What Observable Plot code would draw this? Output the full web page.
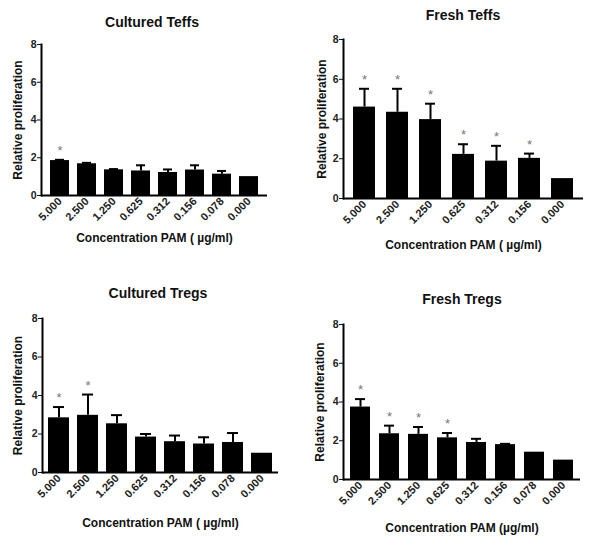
<!DOCTYPE html>
<html>
<head>
<meta charset="utf-8">
<script src="https://cdn.jsdelivr.net/npm/d3@7"></script>
<script src="https://cdn.jsdelivr.net/npm/@observablehq/plot@0.6"></script>
<style>
  html, body { margin: 0; padding: 0; background: #fff; }
  #root { position: relative; width: 600px; height: 548px; overflow: hidden; font-family: "Liberation Sans", Arial, sans-serif; }
  .ttl { position: absolute; width: 200px; text-align: center; font-weight: bold; font-size: 14px; line-height: 16px; color: #111; }
  .pnl { position: absolute; }
</style>
</head>
<body>
<div id="root"></div>
<script>
// ---- data ----
const concAll = ["5.000", "2.500", "1.250", "0.625", "0.312", "0.156", "0.078", "0.000"];
const concFreshTeffs = ["5.000", "2.500", "1.250", "0.625", "0.312", "0.156", "0.000"];

const culturedTeffsMean = [1.85, 1.68, 1.36, 1.30, 1.22, 1.35, 1.13, 1.00];
const culturedTeffsErr  = [1.89, 1.73, 1.40, 1.60, 1.38, 1.60, 1.30, null];
const culturedTeffsSig  = [1, 0, 0, 0, 0, 0, 0, 0];

const freshTeffsMean = [4.60, 4.34, 3.97, 2.22, 1.88, 2.02, 1.00];
const freshTeffsErr  = [5.52, 5.52, 4.77, 2.73, 2.65, 2.26, null];
const freshTeffsSig  = [1, 1, 1, 1, 1, 1, 0];

const culturedTregsMean = [2.84, 2.97, 2.53, 1.84, 1.60, 1.48, 1.56, 1.00];
const culturedTregsErr  = [3.40, 4.05, 2.98, 2.00, 1.92, 1.83, 2.05, null];
const culturedTregsSig  = [1, 1, 0, 0, 0, 0, 0, 0];

const freshTregsMean = [3.74, 2.36, 2.33, 2.15, 1.91, 1.80, 1.41, 1.00];
const freshTregsErr  = [4.15, 2.78, 2.71, 2.40, 2.10, 1.84, null, null];
const freshTregsSig  = [1, 1, 1, 1, 0, 0, 0, 0];

const yTicks = [0, 2, 4, 6, 8];
const xTitleSpaced = "Concentration PAM ( \u00b5g/ml)";
const xTitle = "Concentration PAM (\u00b5g/ml)";
const yTitle = "Relative proliferation";

function rows(conc, mean, err, sig) {
  return conc.map((c, i) => ({c, v: mean[i], e: err[i], s: sig[i], top: err[i] != null ? err[i] : mean[i]}));
}

const panels = [
  {title: "Cultured Teffs", xt: xTitleSpaced, data: rows(concAll, culturedTeffsMean, culturedTeffsErr, culturedTeffsSig),
   left: 0, top: 0, w: 300, h: 250, mL: 41, mR: 33, mT: 44, mB: 55, pi: 0.28, po: 0.18, cap: 5,
   tx: 152, ty: 22, xdy: 43, ydx: -23},
  {title: "Fresh Teffs", xt: xTitleSpaced, data: rows(concFreshTeffs, freshTeffsMean, freshTeffsErr, freshTeffsSig),
   left: 300, top: 0, w: 300, h: 250, mL: 43, mR: 17, mT: 39, mB: 52, pi: 0.33, po: 0.22, cap: 6,
   tx: 463, ty: 15, xdy: 47, ydx: -21},
  {title: "Cultured Tregs", xt: xTitleSpaced, data: rows(concAll, culturedTregsMean, culturedTregsErr, culturedTregsSig),
   left: 0, top: 270, w: 300, h: 278, mL: 42, mR: 22, mT: 48, mB: 76, pi: 0.26, po: 0.14, cap: 5,
   tx: 158, ty: 293, xdy: 51, ydx: -24},
  {title: "Fresh Tregs", xt: xTitle, data: rows(concAll, freshTregsMean, freshTregsErr, freshTregsSig),
   left: 300, top: 270, w: 300, h: 278, mL: 43, mR: 20, mT: 54, mB: 69, pi: 0.31, po: 0.24, cap: 5,
   tx: 462, ty: 299, xdy: 49, ydx: -23}
];

const root = document.getElementById("root");

for (const p of panels) {
  const t = document.createElement("div");
  t.className = "ttl";
  t.textContent = p.title;
  t.style.left = (p.tx - 100) + "px";
  t.style.top = (p.ty - 8) + "px";

  const withErr = p.data.filter(d => d.e != null);
  const withSig = p.data.filter(d => d.s);

  const chart = Plot.plot({
    width: p.w,
    height: p.h,
    marginLeft: p.mL,
    marginRight: p.mR,
    marginTop: p.mT,
    marginBottom: p.mB,
    style: {fontFamily: "Liberation Sans, Arial, sans-serif", fontWeight: "bold", fontSize: "11px", color: "#111", background: "transparent", overflow: "visible"},
    x: {domain: p.data.map(d => d.c), paddingInner: p.pi, paddingOuter: p.po, align: 0.5},
    y: {domain: [0, 8]},
    marks: [
      Plot.barY(p.data, {x: "c", y: "v", fill: "#000"}),
      Plot.ruleX(withErr, {x: "c", y1: "v", y2: "e", stroke: "#000", strokeWidth: 2}),
      Plot.tickY(withErr, {x: "c", y: "e", stroke: "#000", strokeWidth: 2, insetLeft: p.cap, insetRight: p.cap}),
      Plot.text(withSig, {x: "c", y: "top", text: () => "*", dy: -5, fill: "#777", fontSize: 13, fontWeight: "normal", lineAnchor: "bottom"}),
      Plot.axisY({ticks: yTicks, tickSize: 4, tickPadding: 1, tickFormat: d => d, label: null, fontSize: 10.5, fontWeight: "bold", fill: "#222"}),
      Plot.axisX({tickSize: 0, tickPadding: 4, tickRotate: -45, label: null, fontSize: 11, fontWeight: "bold", letterSpacing: 0.6, fill: "#222"}),
      Plot.text([p.xt], {frameAnchor: "bottom", dy: p.xdy, lineAnchor: "middle", textAnchor: "middle", fontSize: 12, fontWeight: "bold", fill: "#111"}),
      Plot.text([yTitle], {frameAnchor: "left", dx: p.ydx, rotate: -90, lineAnchor: "middle", textAnchor: "middle", fontSize: 12, fontWeight: "bold", letterSpacing: 0.3, fill: "#111"}),
      Plot.ruleY([0], {stroke: "#000", strokeWidth: 2}),
      Plot.frame({anchor: "left", stroke: "#000", strokeWidth: 2})
    ]
  });
  chart.classList.add("pnl");
  chart.style.left = p.left + "px";
  chart.style.top = p.top + "px";
  root.appendChild(chart);
  root.appendChild(t);
}
</script>
</body>
</html>
